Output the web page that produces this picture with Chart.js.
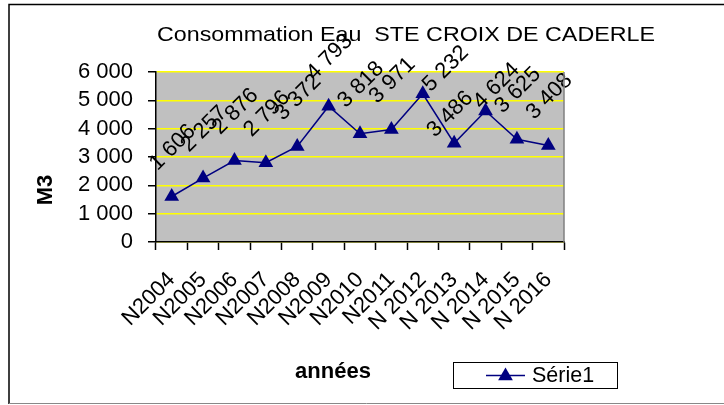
<!DOCTYPE html>
<html><head><meta charset="utf-8">
<script src="https://cdn.jsdelivr.net/npm/chart.js@4/dist/chart.umd.min.js"></script>
<style>html,body{margin:0;padding:0;background:#fff}#wrap{width:724px;height:405px;position:relative}</style>
</head><body><div id="wrap"><canvas id="c" width="724" height="405"></canvas></div>
<script>
const categories = ['N2004','N2005','N2006','N2007','N2008','N2009','N2010','N2011','N 2012','N 2013','N 2014','N 2015','N 2016'];
const values = [1606,2257,2876,2796,3372,4793,3818,3971,5232,3486,4624,3625,3408];
const seriesName = 'Série1';
const yTickValues = [0,1000,2000,3000,4000,5000,6000];
const chartTitle = 'Consommation Eau  STE CROIX DE CADERLE';
const xTitle = 'années';
const yTitle = 'M3';

const FONT = 'Liberation Sans, Arial, sans-serif';
const NAVY = '#000080';
function fmt(n){ if(n<1000) return String(n); return Math.floor(n/1000)+' '+String(n%1000).padStart(3,'0'); }

const decor = {
  id:'decor',
  beforeDraw(chart){
    const {ctx, chartArea:a} = chart;
    ctx.save();
    ctx.fillStyle='#fff'; ctx.fillRect(0,0,chart.width,chart.height);
    ctx.fillStyle='#C0C0C0'; ctx.fillRect(a.left,a.top,a.right-a.left,a.bottom-a.top);
    ctx.restore();
  },
  afterDraw(chart){
    const {ctx, chartArea:a} = chart;
    ctx.save();
    ctx.strokeStyle='#808080'; ctx.lineWidth=1.5;
    ctx.beginPath(); ctx.moveTo(a.right,a.top); ctx.lineTo(a.right,a.bottom); ctx.stroke();
    ctx.strokeStyle='#000'; ctx.lineWidth=1.5;
    ctx.beginPath(); ctx.moveTo(9,404); ctx.lineTo(9,4.5); ctx.lineTo(724,4.5); ctx.stroke();
    ctx.strokeStyle='#888'; ctx.lineWidth=1;
    ctx.beginPath(); ctx.moveTo(9,403.5); ctx.lineTo(724,403.5); ctx.stroke();
    ctx.fillStyle='#000'; ctx.textAlign='center'; ctx.textBaseline='middle';
    ctx.font='21px '+FONT;
    const tw = ctx.measureText(chartTitle).width;
    ctx.save(); ctx.translate(406,35); ctx.scale(498/tw,1); ctx.fillText(chartTitle,0,0); ctx.restore();
    ctx.font='bold 22px '+FONT;
    ctx.fillText(xTitle,333,372);
    ctx.save(); ctx.translate(46,190); ctx.rotate(-Math.PI/2); ctx.fillText(yTitle,0,0); ctx.restore();
    ctx.strokeStyle='#000'; ctx.lineWidth=1;
    ctx.strokeRect(453.5,362.5,164,26);
    ctx.strokeStyle=NAVY; ctx.lineWidth=1.5;
    ctx.beginPath(); ctx.moveTo(486,375.5); ctx.lineTo(525,375.5); ctx.stroke();
    ctx.fillStyle=NAVY;
    Chart.helpers.drawPoint(ctx,{pointStyle:'triangle',radius:8.5,rotation:0,borderWidth:0},505.5,376);
    ctx.fillStyle='#000'; ctx.textAlign='left'; ctx.font='21.5px '+FONT;
    ctx.fillText(seriesName,532,376);
    ctx.restore();
  },
  afterDatasetsDraw(chart, args, opts){
    const {ctx} = chart;
    const meta = chart.getDatasetMeta(0);
    ctx.save();
    ctx.font='22px '+FONT; ctx.fillStyle='#000';
    ctx.textAlign='center'; ctx.textBaseline='middle';
    meta.data.forEach((p,i)=>{
      const s = opts.shift[i] || opts.defaultShift;
      ctx.save();
      ctx.translate(p.x+s[0], p.y+s[1]);
      ctx.rotate(-Math.PI/4);
      ctx.fillText(fmt(values[i]),0,0);
      ctx.restore();
    });
    ctx.restore();
  }
};

new Chart(document.getElementById('c'),{
  type:'line',
  data:{labels:categories,datasets:[{label:seriesName,data:values,borderColor:NAVY,borderWidth:1.5,
    pointStyle:'triangle',pointRadius:8.5,pointHoverRadius:8.5,pointBackgroundColor:NAVY,pointBorderColor:NAVY,pointBorderWidth:0,tension:0,clip:false}]},
  options:{
    responsive:false, animation:false, devicePixelRatio:1,
    layout:{padding:{top:72,right:160,left:0,bottom:0}},
    plugins:{legend:{display:false},tooltip:{enabled:false},title:{display:false},
      decor:{defaultShift:[1,-49], shift:{8:[23,-25],9:[-4,-29],10:[11,-25]}}},
    scales:{
      x:{type:'category',offset:true,
        grid:{offset:true,drawOnChartArea:false,drawTicks:true,tickLength:8,tickColor:'#000',tickWidth:1.5},
        border:{color:'#000',width:1.5},
        ticks:{minRotation:45,maxRotation:45,autoSkip:false,color:'#000',font:{family:FONT,size:22},padding:17},
        afterFit(s){s.height=163;}
      },
      y:{min:0,max:6000,
        afterBuildTicks(s){ s.ticks = yTickValues.map(v=>({value:v})); },
        ticks:{autoSkip:false,color:'#000',font:{family:FONT,size:22,lineHeight:1},padding:15,callback:(v)=>fmt(v)},
        grid:{color:'#FFFF00',lineWidth:1.5,tickColor:'#000',tickLength:8,tickWidth:1.5},
        border:{color:'#000',width:1.5},
        title:{display:false,text:yTitle},
        afterFit(s){s.width=156;}
      }
    }
  },
  plugins:[decor]
});
</script></body></html>
